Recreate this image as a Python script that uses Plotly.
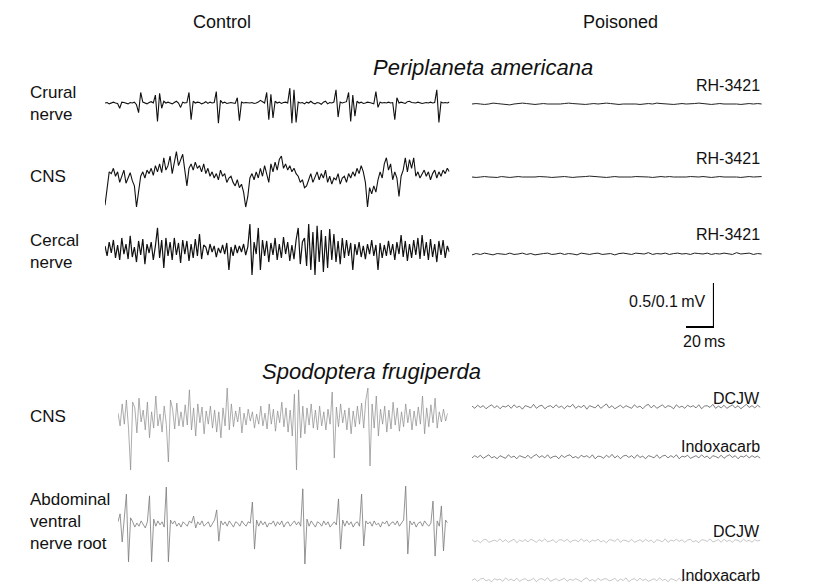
import numpy as np
import plotly.graph_objects as go

# page is 814x584; the browser adds an 8 px body margin, so the figure is 806x576
PAGE_OFF = 8
W, H = 806, 576
FONT = "Liberation Sans, Arial, Helvetica, sans-serif"

# ---------------- data (time step in ms, amplitude in microvolts) ----------------
DT_CTRL = 1.5
DT_PA_POIS = 3.0
DT_SF_POIS = 2.0

crural_control = [
    0, 5, -10, 0, 10, 0, -5, -60, 10, 5, 0, -10, 5, 0, 10,
    -20, -110, 120, 10, 0, -10, 5, 15, 0, 90, -210, 110, -60, 20, 0,
    10, 0, -10, 5, 20, 0, -50, 10, 0, 5, 120, -190, 20, 0, 10,
    5, -10, 0, 15, -5, 10, 0, 5, 130, -230, 30, 0, 10, -5, 0,
    5, 0, -5, 60, -200, 10, 0, 5, 0, 0, 5, -5, 0, 10, 30,
    10, 0, 120, -190, 100, -170, 20, 0, 10, -5, 5, 10, 0, 170, -230,
    150, -220, 10, 0, 5, -10, 10, 0, 20, 0, -10, 5, 0, -15, 10,
    20, -10, 5, 0, 10, 150, -160, 10, 0, 5, 15, 120, -210, 90, -150,
    20, 0, 10, -5, 0, 10, 5, 0, -10, 130, -50, 10, 0, 5, 0,
    10, 0, 5, -190, 60, 0, 10, 0, -5, 15, 20, 5, 0, 0, 10,
    0, -5, 0, 5, 0, 10, 0, 5, 150, -220, 10, 0, 5, 0, 10,
]

cns_pa_control = [
    -310, -110, 70, 50, 110, 20,
    70, -50, 30, 90, -60, 0, 60, -30,
    -90, -330, -140, 20,
    70, 0, 90, 50, 110, 30, 140, 70, 160, 60, 230, 90,
    140, 250, 50, 180, 300, 140, 210, 270, 90,
    -90, 110,
    160, 90, 180, 110, 140, 70, 160, 50, 110, 20,
    70, 0, 50, -20, 90, 20, 50, -50, 0, 20,
    -50, -90, -20, -110, -70, -160, -330, -210, 0, 50, -20,
    70, 0, 110, 20, 140, 50, -50, 160, 70, 180, 90, 210,
    250, 110, 160, 90, 140, 70, 110, 50, 20,
    -50, -20, -110, -90, -20, 50, -50, 20,
    70, -20, 50, 0, 90, -50, 20, -70, 0, -20, 50, -70, 0, 20, -50, 50, 0, 70,
    20, 110, 50, 140, 70, -50, -330, -110, -180,
    -90, -160, -20, 70, 0, 160,
    230, 90, 160, -20, 70, 0, -210, 20, 90,
    230, 70, 210, 110, 230, 20,
    70, 0, 50, 90, 20, 70, -20, 50, 90, 0, 70, 20, 90, 50, 110, 70,
]

cercal_control = [
    46, -68, 91, -34, 114, -91, 57, -114, 137, -46, 68, -103, 160, -80, 34,
    -137, 103, -57, 125, -160, 68, -34, 91, -114, 46,
    251, -91, 114, -205, 137, -68,
    91, -114, 137, -57, 80, -148, 114, -46, 103, -125, 68, -91, 125, -68,
    182, -103, 57,
    34, -57, 68, -23, 46, -80, 23, -34, 57, -46, 80, -228, 34, -68, 57, -34, 46, -23, 68, -57, 34,
    296, -285, 91, -46,
    251, -228, 114, -68,
    103, -137, 80, -57, 137, -114, 68, -91, 148, -46, 91, -125, 57, -103, 114,
    251, -160, 91,
    137, -182, 296, -228, 205, -285, 274, -137, 228, -251, 160, -205, 239, -114, 182, -137,
    103, -160, 137, -91, 114, -68, 80,
    -228, 68, -57, 91, -80, 46, -103, 68, -46, 114, -68, 57, -228,
    80, -91, 57, -68, 103, -57, 68, -114, 91, -46, 171, -80, 103, -125, 68, -91, 114, -57, 137, -103,
    171, -68, 91, -114, 125, -80, 68, -137, 103, -57, 114, -91, 46, -23,
]

cns_sf_control = [
    11, -18, 32, -14, 41, -23, -118, 36, 23, -34, 45, -9, 18, -27, 36, -45, 14, -23, 50, -18,
    9, -32, 27, -14, -100, 41, 20, -25, 34, -18, 14, -20, 30, -16, 64, -27, 23, -41, 32, -11,
    25, -36, 16, -14, 27, -23, 18, -32, 14, -45, 23, -18, 68, -27, 32, -20, 16, -9, 25, -34,
    11, -16, 20, -7, 14, -23, 9, -14, 27, -18, 11, -25, 32, -14, 20, -30, 16, -11, 36, -20,
    23, -32, 18, -41, 54, -118, 64, -45, 27, -36, 23, -16, 32, -23, 18, -27, 27, -18, 14, -27,
    20, -14, 59, -91, 25, -20, 32, -11, 18, -27, 23, -36, 16, -20, 27, -14, 34, -23, 41, 68,
    -109, 32, -23, 50, -41, 20, -14, 27, -32, 18, -25, 36, -16, 23, -30, 14, -20, 32, -11, 20,
    -27, 16, -18, 25, -14, 50, -36, 23, -20, 30, -11, 45, -23, 14, -9, 20, -7, 11,
]

abd_sf_control = [
    5, 23, -41, 9, 68, -86, 14, 5, -7, 2,
    -5, 7, 0, -9, 5, 64, -86, 11, -5, 7,
    -2, 5, -7, 84, -86, 9, 0, 7, -5, 2,
    -7, 5, 0, -5, 7, 2, 18, -9, 5, -2,
    7, -5, 0, 5, -7, 2, 9, 32, -39, 7,
    -2, 5, -5, 7, 0, -7, 5, 2, -5, 7,
    0, -5, 5, 2, 50, -57, 9, -5, 7, -2,
    5, -7, 2, 0, 7, -5, 5, -2, 7, -7,
    2, 5, -5, 0, 7, -2, 5, -5, 80, -91,
    11, -5, 7, 0, -7, 5, 2, -5, 7, -2,
    5, -7, 0, 5, -2, 57, -57, 9, -5, 7,
    -2, 5, -7, 2, 5, -5, 68, -50, 7, 0,
    5, -5, 7, -2, 2, -7, 5, 0, 7, -5,
    2, 5, -2, 7, -5, 2, 9, 86, -68, 7,
    -2, 5, -7, 2, 5, -5, 7, 0, -5, 2,
    52, -73, 7, -5, 41, -61, 9, 2,
]

crural_rh3421 = [
    0, 5, 0, -5, 0, 10, 5, 0, -5, -10,
    0, 5, 10, 5, 0, -5, 0, 5, 0, 0,
    -5, 0, 5, 10, 5, 0, 0, -5, 0, 5,
    0, 5, 10, 5, 0, -5, 0, 0, 5, 0,
    -5, 0, 5, 0, 10, 5, 0, 0, -5, 0,
    5, 0, 0, 5, 10, 5, 0, -5, 0, 5,
    0, 0, 5, 0, -5, 0, 5, 0, 5, 0,
]
cns_pa_rh3421 = [
    0, -5, 0, 5, 0, 0, -5, 5, 0, -5,
    0, 5, 0, 0, -5, 0, 5, 5, 0, -5,
    0, 0, 5, 0, -5, 0, 0, 5, 10, 5,
    0, 0, -5, 0, 5, 0, 0, -5, 0, 5,
    5, 0, 0, -5, 0, 5, 0, 5, 0, 0,
    -5, 0, 5, 0, 0, 5, 0, -5, 0, 5,
    0, 0, 5, 0, -5, 0, 5, 0, 0, 5,
]
cercal_rh3421 = [
    -10, 5, -5, 10, 0, -10, 5, 0, -5, 10,
    -5, 0, 10, -5, 5, -10, 0, 5, 10, -5,
    0, 10, -5, 5, 0, -10, 10, 0, -5, 5,
    10, -5, 0, 5, -10, 5, 10, 0, -5, 10,
    5, 0, 15, -5, 5, 0, 10, -5, 5, 10,
    0, 5, -5, 10, 5, 0, 10, -5, 5, 0,
    10, 5, -5, 15, 0, 5, 10, -5, 5, 0,
]

cns_sf_dcjw = [
    2, -3, 4, -1, 3, -4, 1, 5, -2, 3,
    -4, 2, 0, 4, -3, 5, -1, 2, -5, 3,
    1, -2, 6, -3, 2, 4, -4, 1, 3, -2,
    5, -1, 2, -4, 3, 0, 6, -3, 2, -1,
    4, -5, 3, 1, -2, 5, -3, 2, 7, -2,
    3, -4, 1, 4, -2, 3, 0, -3, 5, -1,
    2, -4, 3, 6, -2, 4, -3, 1, 5, -2,
    3, 1, -4, 5, -1, 2, -3, 4, 0, 3,
    -2, 5, -4, 2, 3, -1, 6, -3, 2, -2,
    4, -3, 1, 5, -2, 3, -4, 2, 6, -1,
    3, -2, 4, -1,
]
cns_sf_indoxacarb = [
    -2, 3, -1, 4, -3, 2, 5, -2, 1, -4,
    3, 0, -3, 5, -1, 2, -4, 3, 1, -2,
    4, -3, 2, 6, -1, 3, -2, 5, -3, 1,
    2, -4, 4, -1, 3, 5, -2, 1, -3, 4,
    0, 3, -2, 5, -4, 2, 1, -3, 4, -1,
    6, -2, 3, -4, 2, 4, -1, 3, -3, 5,
    -1, 2, -4, 3, 1, -2, 5, -3, 2, 4,
    -2, 3, -1, 5, -4, 2, 0, 4, -3, 1,
    3, -2, 5, -1, 2, -4, 3, 1, -2, 4,
    -3, 2, 5, -1, 3, -4, 2, 0, 4, -2,
    3, -1, 2, -3,
]
abd_sf_dcjw = [
    3, -2, 1, -4, 2, 4, -3, 0, 2, -1,
    5, -2, 3, -3, 1, 4, -4, 2, -1, 3,
    -2, 4, 1, -3, 3, -1, 5, -2, 0, 3,
    -4, 2, 3, -1, 4, -3, 1, 2, -2, 5,
    -1, 3, -3, 2, 0, 4, -2, 1, -4, 3,
    2, -1, 5, -3, 2, 1, -2, 4, -3, 0,
    3, -2, 4, -1, 2, -4, 3, 1, -2, 5,
    -3, 2, 0, 4, -1, 3, -3, 2, 4, -2,
    1, -4, 3, 2, -1, 5, -2, 0, 3, -3,
    4, -1, 2, -3, 3, 1, -2, 4, -1, 2,
    -3, 3, 0, 2,
]
abd_sf_indoxacarb = [
    -1, 3, -3, 2, 4, -2, 1, -4, 3, 0,
    2, -3, 5, -1, 2, -2, 4, -3, 1, 3,
    -2, 0, 4, -4, 2, 3, -1, 5, -3, 1,
    3, -2, 1, 4, -3, 2, -1, 3, 0, -4,
    2, 5, -2, 1, -3, 4, -1, 2, 3, -2,
    0, 4, -3, 2, -1, 5, -4, 1, 3, -2,
    4, -1, 2, -3, 0, 3, -2, 5, -1, 2,
    -4, 3, 1, -2, 4, -3, 2, 0, 3, -1,
    5, -2, 1, 3, -4, 2, -1, 4, -3, 1,
    2, -3, 4, 0, -2, 3, -1, 2, 5, -3,
    1, -2, 3, 0,
]

SCALE_MS = [0, 20, 20]
SCALE_UV = [0, 0, 500]

# ---------------- scales (layout) ----------------
PX_PER_MS = 1.4
PA_PX_PER_UV = 44 / 500.0   # Periplaneta: 0.5 mV -> 44 px
SF_PX_PER_UV = 44 / 100.0   # Spodoptera: 0.1 mV -> 44 px

fig = go.Figure()
layout_axes = {}
panel_count = [0]


def add_panel(values, dt, x0_page, yc_page, px_per_uv, color, width, half=70, t=None):
    panel_count[0] += 1
    k = panel_count[0]
    x0_px = x0_page - PAGE_OFF
    yc_px = yc_page - PAGE_OFF
    if t is None:
        t = np.arange(len(values)) * dt
    dur = float(t[-1] - t[0])
    x1_px = x0_px + dur * PX_PER_MS
    top = max(0.0, yc_px - half)
    bot = min(float(H), yc_px + half)
    xname = "xaxis" if k == 1 else f"xaxis{k}"
    yname = "yaxis" if k == 1 else f"yaxis{k}"
    xref = "x" if k == 1 else f"x{k}"
    yref = "y" if k == 1 else f"y{k}"
    layout_axes[xname] = dict(domain=[x0_px / W, x1_px / W], range=[t[0], t[-1]],
                              visible=False, fixedrange=True, anchor=yref)
    layout_axes[yname] = dict(domain=[1 - bot / H, 1 - top / H],
                              range=[-(bot - yc_px) / px_per_uv, (yc_px - top) / px_per_uv],
                              visible=False, fixedrange=True, anchor=xref)
    fig.add_trace(go.Scatter(x=t, y=values, mode="lines", xaxis=xref, yaxis=yref,
                             line=dict(color=color, width=width), hoverinfo="skip",
                             showlegend=False))


BLACK = "#111111"
# Periplaneta americana – control
add_panel(crural_control, DT_CTRL, 105, 103, PA_PX_PER_UV, BLACK, 1.1)
add_panel(cns_pa_control, DT_CTRL, 105, 178, PA_PX_PER_UV, BLACK, 1.1)
add_panel(cercal_control, DT_CTRL, 105, 250, PA_PX_PER_UV, BLACK, 1.2)
# Periplaneta americana – poisoned
add_panel(crural_rh3421, DT_PA_POIS, 472, 104, PA_PX_PER_UV, "#222222", 1.0)
add_panel(cns_pa_rh3421, DT_PA_POIS, 472, 177, PA_PX_PER_UV, "#222222", 1.0)
add_panel(cercal_rh3421, DT_PA_POIS, 472, 254, PA_PX_PER_UV, "#222222", 1.0)
# scale bar
add_panel(SCALE_UV, None, 686, 327, PA_PX_PER_UV, "#000000", 2.2, half=50,
          t=np.array(SCALE_MS, dtype=float))
# Spodoptera frugiperda – control
add_panel(cns_sf_control, DT_CTRL, 118, 418, SF_PX_PER_UV, "#8a8a8a", 0.7)
add_panel(abd_sf_control, DT_CTRL, 118, 524, SF_PX_PER_UV, "#7a7a7a", 0.8)
# Spodoptera frugiperda – poisoned
add_panel(cns_sf_dcjw, DT_SF_POIS, 472, 407, SF_PX_PER_UV, "#444444", 0.7, half=20)
add_panel(cns_sf_indoxacarb, DT_SF_POIS, 472, 457, SF_PX_PER_UV, "#444444", 0.7, half=20)
add_panel(abd_sf_dcjw, DT_SF_POIS, 472, 541, SF_PX_PER_UV, "#b8b8b8", 0.8, half=20)
add_panel(abd_sf_indoxacarb, DT_SF_POIS, 472, 580, SF_PX_PER_UV, "#b8b8b8", 0.8, half=20)

# ---------------- text ----------------
annotations = []


def text(s, x, y, size=17, xanchor="center", italic=False, align="left"):
    annotations.append(dict(
        text=s, x=(x - PAGE_OFF) / W, y=1 - (y - PAGE_OFF) / H, xref="paper", yref="paper",
        xanchor=xanchor, yanchor="middle", showarrow=False, align=align,
        font=dict(family=FONT, size=size, color="#111111",
                  style="italic" if italic else "normal"),
    ))


text("Control", 222, 22, size=18)
text("Poisoned", 620, 22, size=18)
text("Periplaneta americana", 483, 67, size=22, italic=True)
text("Crural<br>nerve", 28, 103, xanchor="left")
text("CNS", 28, 176, xanchor="left")
text("Cercal<br>nerve", 28, 251, xanchor="left")
for yy in (86, 158, 234):
    text("RH-3421", 762, yy, size=16, xanchor="right")
text("0.5/0.1\u2009mV", 707, 301, size=16, xanchor="right")
text("20\u2009ms", 704, 341, size=16)
text("Spodoptera frugiperda", 371, 371, size=22, italic=True)
text("CNS", 28, 416, xanchor="left")
text("DCJW", 762, 398, size=16, xanchor="right")
text("Indoxacarb", 762, 446, size=16, xanchor="right")
text("Abdominal<br>ventral<br>nerve root", 28, 521, xanchor="left")
text("DCJW", 762, 531, size=16, xanchor="right")
text("Indoxacarb", 762, 575, size=16, xanchor="right")

fig.update_layout(
    width=W, height=H, margin=dict(l=0, r=0, t=0, b=0),
    paper_bgcolor="white", plot_bgcolor="rgba(0,0,0,0)",
    showlegend=False, annotations=annotations, **layout_axes,
)

fig.write_html("out.html")
